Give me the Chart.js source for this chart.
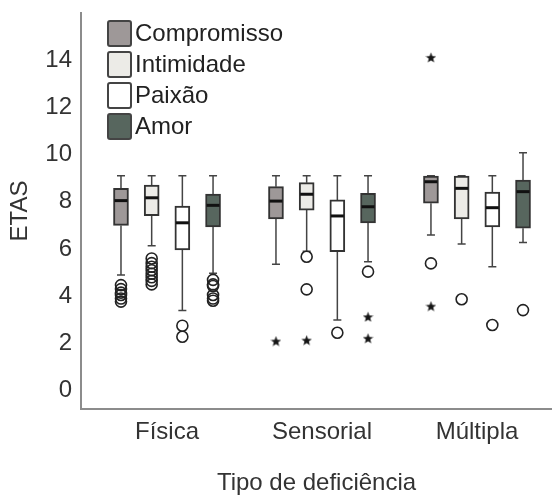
<!DOCTYPE html>
<html>
<head>
<meta charset="utf-8">
<script src="https://cdn.jsdelivr.net/npm/chart.js@4"></script>
<style>
  html, body { margin: 0; padding: 0; background: #fff; }
  #chart { display: block; }
</style>
</head>
<body>
<canvas id="chart" width="552" height="498"></canvas>
<script>
const categories = ['Física', 'Sensorial', 'Múltipla'];
const seriesNames = ['Compromisso', 'Intimidade', 'Paixão', 'Amor'];
const yTicks = [0, 2, 4, 6, 8, 10, 12, 14];

// values per [serie][categoria]
const whiskerHigh = [
    [9.1, 9.1, 9.1],
    [9.1, 9.1, 9.1],
    [9.1, 9.1, 9.1],
    [9.1, 9.1, 10.08]
];
const q3 = [
    [8.57, 8.64, 9.09],
    [8.71, 8.81, 9.09],
    [7.82, 8.08, 8.41],
    [8.33, 8.36, 8.92]
];
const median = [
    [8.05, 8.03, 8.85],
    [8.17, 8.32, 8.57],
    [7.11, 7.40, 7.75],
    [7.85, 7.79, 8.43]
];
const q1 = [
    [7.00, 7.27, 7.94],
    [7.41, 7.65, 7.27],
    [5.96, 5.89, 6.94],
    [6.94, 7.11, 6.88]
];
const whiskerLow = [
    [4.90, 5.35, 6.59],
    [6.14, 5.90, 6.21],
    [3.39, 2.99, 5.25],
    [4.97, 5.46, 6.28]
];
// outliers (o)
const circleOutliers = [
    [[4.47, 4.3, 4.15, 4.05, 3.9, 3.77], [], [5.39]],
    [[5.6, 5.4, 5.25, 5.1, 4.95, 4.8, 4.65, 4.5], [5.67, 4.29], [3.87]],
    [[2.75, 2.28], [2.45], [2.78]],
    [[4.69, 4.5, 4.43, 4.05, 3.9, 3.81], [5.04], [3.41]]
];
// extreme values (*)
const starOutliers = [
    [[], [2.10], [14.12, 3.58]],
    [[], [2.14], []],
    [[], [], []],
    [[], [3.13, 2.22], []]
];

const boxColors = ['#9e9898', '#ecebe7', '#ffffff', '#57665e'];
const seriesOffset = [-0.297, -0.099, 0.099, 0.297];
const boxWidth = 15;

Chart.defaults.font.family = "'Liberation Sans', Arial, sans-serif";
Chart.defaults.font.size = 24;
Chart.defaults.color = '#333';

function makeStar(size) {
    const c = document.createElement('canvas');
    c.width = size;
    c.height = size;
    const g = c.getContext('2d');
    const R = size / 2, r = R * 0.42;
    g.beginPath();
    for (let i = 0; i < 10; i++) {
        const rad = i % 2 ? r : R;
        const a = -Math.PI / 2 + i * Math.PI / 5;
        g.lineTo(R + rad * Math.cos(a), R + 0.6 + rad * Math.sin(a));
    }
    g.closePath();
    g.fillStyle = '#151515';
    g.fill();
    return c;
}

const boxDatasets = seriesNames.map((name, si) => ({
    type: 'bar',
    label: name,
    data: categories.map((c, ci) => ({ x: ci + seriesOffset[si], y: [q1[si][ci], q3[si][ci]] })),
    backgroundColor: boxColors[si],
    borderColor: '#333',
    borderWidth: 2,
    borderSkipped: false,
    barThickness: boxWidth,
    grouped: false
}));

const circlePoints = [];
const starPoints = [];
seriesNames.forEach((n, si) => {
    categories.forEach((c, ci) => {
        circleOutliers[si][ci].forEach(v => circlePoints.push({ x: ci + seriesOffset[si], y: v }));
        starOutliers[si][ci].forEach(v => starPoints.push({ x: ci + seriesOffset[si], y: v }));
    });
});

const boxPlotLines = {
    id: 'boxPlotLines',
    beforeDatasetsDraw(chart) {
        const { ctx, scales: { x, y } } = chart;
        ctx.save();
        ctx.strokeStyle = '#444';
        ctx.lineWidth = 1.5;
        seriesNames.forEach((n, si) => {
            categories.forEach((c, ci) => {
                const px = x.getPixelForValue(ci + seriesOffset[si]);
                const hi = y.getPixelForValue(whiskerHigh[si][ci]);
                const lo = y.getPixelForValue(whiskerLow[si][ci]);
                ctx.beginPath();
                ctx.moveTo(px, hi); ctx.lineTo(px, y.getPixelForValue(q3[si][ci]));
                ctx.moveTo(px, lo); ctx.lineTo(px, y.getPixelForValue(q1[si][ci]));
                ctx.moveTo(px - 4, hi); ctx.lineTo(px + 4, hi);
                ctx.moveTo(px - 4, lo); ctx.lineTo(px + 4, lo);
                ctx.stroke();
            });
        });
        ctx.restore();
    },
    afterDatasetsDraw(chart) {
        const { ctx, scales: { x, y } } = chart;
        ctx.save();
        ctx.strokeStyle = '#111';
        ctx.lineWidth = 3;
        seriesNames.forEach((n, si) => {
            categories.forEach((c, ci) => {
                const px = x.getPixelForValue(ci + seriesOffset[si]);
                const py = y.getPixelForValue(median[si][ci]);
                ctx.beginPath();
                ctx.moveTo(px - boxWidth / 2 + 1, py);
                ctx.lineTo(px + boxWidth / 2 - 1, py);
                ctx.stroke();
            });
        });
        ctx.restore();
    },
    afterDraw(chart) {
        // legend in the upper left corner of the plot
        const ctx = chart.ctx;
        ctx.save();
        ctx.font = "24px 'Liberation Sans', Arial, sans-serif";
        ctx.textBaseline = 'middle';
        seriesNames.forEach((name, si) => {
            const top = 21 + si * 31;
            ctx.beginPath();
            ctx.roundRect(108, top, 23, 25, 2);
            ctx.fillStyle = boxColors[si];
            ctx.fill();
            ctx.strokeStyle = '#444';
            ctx.lineWidth = 2;
            ctx.stroke();
            ctx.fillStyle = '#222';
            ctx.fillText(name, 135, top + 13);
        });
        ctx.restore();
    }
};

const ctx = document.querySelector('#chart').getContext('2d');
const myChart = new Chart(ctx, {
    type: 'bar',
    data: {
        datasets: [
            ...boxDatasets,
            {
                type: 'scatter',
                label: 'o',
                data: circlePoints,
                pointStyle: 'circle',
                pointRadius: 5.5,
                pointBorderWidth: 1.6,
                pointBorderColor: '#222',
                pointBackgroundColor: 'rgba(0,0,0,0)'
            },
            {
                type: 'scatter',
                label: '*',
                data: starPoints,
                pointStyle: makeStar(11),
                pointRadius: 5
            }
        ]
    },
    options: {
        responsive: false,
        animation: false,
        layout: { autoPadding: false, padding: { top: 13, left: 0, right: 0, bottom: 0 } },
        plugins: { legend: { display: false }, tooltip: { enabled: false } },
        scales: {
            x: {
                type: 'linear',
                min: -0.555,
                max: 2.484,
                offset: false,
                grid: { display: false, drawTicks: false },
                border: { display: true, color: '#8c8c8c', width: 2 },
                afterBuildTicks: s => { s.ticks = categories.map((c, i) => ({ value: i })); },
                ticks: { callback: v => categories[v], padding: 9, maxRotation: 0, autoSkip: false },
                title: { display: true, text: 'Tipo de deficiência', padding: { top: 0, bottom: 0 } },
                afterFit: s => { s.height = 89; s.paddingLeft = 0; s.paddingRight = 0; }
            },
            y: {
                min: -0.78,
                max: 16.0,
                grid: { display: false, drawTicks: false },
                border: { display: true, color: '#8c8c8c', width: 2 },
                afterBuildTicks: s => { s.ticks = yTicks.map(v => ({ value: v })); },
                ticks: { padding: 9 },
                title: { display: true, text: 'ETAS', padding: { top: 6, bottom: 0 } },
                afterFit: s => { s.width = 81; s.paddingTop = 0; s.paddingBottom = 0; }
            }
        }
    },
    plugins: [boxPlotLines]
});
</script>
</body>
</html>
